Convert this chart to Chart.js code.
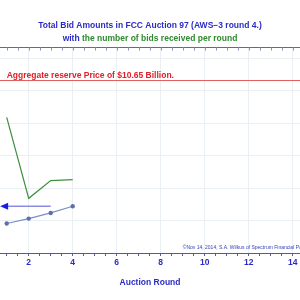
<!DOCTYPE html>
<html><head><meta charset="utf-8">
<script src="https://cdn.jsdelivr.net/npm/chart.js@4.4.0/dist/chart.umd.min.js"></script>
<style>html,body{margin:0;padding:0;background:#fff}#wrap{width:300px;height:300px}</style>
</head><body><div id="wrap"><canvas id="c" width="300" height="300"></canvas></div>
<script>
const rounds = [1, 2, 3, 4];
const totalBids = [1.82, 2.12, 2.47, 2.88];      // billions (blue)
const bidCounts = [8.36, 3.37, 4.46, 4.52];      // number of bids, plotted on same scale (green)
const reservePrice = 10.65;
const reserveLabel = 'Aggregate reserve Price of $10.65 Billion.';
const arrowFrom = 3, arrowTo = 0.7, arrowY = 2.88;
const xTickLabels = [2, 4, 6, 8, 10, 12, 14];
const titleLine1 = 'Total Bid Amounts in FCC Auction 97 (AWS\u22123 round 4.)';
const titleLine2a = 'with ';
const titleLine2b = 'the number of bids received per round';
const credit = '\u00A9Nov 14, 2014, S.A. Wilkus of Spectrum Financial Partners';
const xTitle = 'Auction Round';

const F = '"Liberation Sans", Arial, sans-serif';
const BLUE = '#2b2bc6';
const GREEN = '#2e8a2e';

const fullWidth = {
  id: 'fullWidth',
  afterLayout(chart) {
    const W = chart.width, x = chart.scales.x, y = chart.scales.y, a = chart.chartArea;
    a.left = 0; a.right = W; a.width = W;
    x.left = 0; x.right = W; x.width = W; x.configure();
    y.left = 0; y.right = 0;
  }
};

const deco = {
  id: 'deco',
  beforeDatasetsDraw(chart) {
    const ctx = chart.ctx, y = chart.scales.y;
    ctx.save();
    const ry = Math.round(y.getPixelForValue(reservePrice)) + 0.5;
    ctx.strokeStyle = '#e06060'; ctx.lineWidth = 1;
    ctx.beginPath(); ctx.moveTo(0, ry); ctx.lineTo(chart.width, ry); ctx.stroke();
    ctx.restore();
  },
  afterDatasetsDraw(chart) {
    const ctx = chart.ctx, x = chart.scales.x, y = chart.scales.y, a = chart.chartArea;
    ctx.save();
    const ry = y.getPixelForValue(reservePrice);
    ctx.fillStyle = '#e0202a'; ctx.font = 'bold 8.5px ' + F;
    ctx.textBaseline = 'alphabetic'; ctx.textAlign = 'left';
    ctx.fillText(reserveLabel, x.getPixelForValue(1.0), ry - 2.5);
    const ay = y.getPixelForValue(arrowY);
    const x0 = x.getPixelForValue(arrowFrom), x1 = x.getPixelForValue(arrowTo);
    ctx.strokeStyle = '#8c8ce6'; ctx.lineWidth = 1.5;
    ctx.beginPath(); ctx.moveTo(x0, ay); ctx.lineTo(x1 + 6, ay); ctx.stroke();
    ctx.fillStyle = '#1a1ae6';
    ctx.beginPath(); ctx.moveTo(x1, ay); ctx.lineTo(x1 + 8, ay - 3.5); ctx.lineTo(x1 + 8, ay + 3.5); ctx.closePath(); ctx.fill();
    const ty = Math.round(a.top) + 0.5;
    ctx.strokeStyle = '#6464aa'; ctx.lineWidth = 1;
    ctx.beginPath(); ctx.moveTo(0, ty); ctx.lineTo(chart.width, ty); ctx.stroke();
    ctx.strokeStyle = '#9090c0';
    ctx.beginPath();
    for (let v = 1; v <= 14.5; v += 0.5) {
      const px = Math.round(x.getPixelForValue(v)) + 0.5;
      ctx.moveTo(px, ty); ctx.lineTo(px, ty + 3);
    }
    ctx.stroke();
    ctx.fillStyle = '#3344bb'; ctx.font = '5px ' + F;
    ctx.textBaseline = 'middle';
    ctx.fillText(credit, x.getPixelForValue(9.0), a.bottom - 5.5);
    ctx.textAlign = 'center';
    ctx.font = 'bold 8.5px ' + F;
    ctx.fillStyle = BLUE;
    ctx.fillText(titleLine1, 150, 26);
    const w1 = ctx.measureText(titleLine2a).width, w2 = ctx.measureText(titleLine2b).width;
    const sx = 150 - (w1 + w2) / 2;
    ctx.textAlign = 'left';
    ctx.fillText(titleLine2a, sx, 39);
    ctx.fillStyle = GREEN;
    ctx.fillText(titleLine2b, sx + w1, 39);
    ctx.restore();
  }
};

new Chart(document.getElementById('c'), {
  type: 'line',
  data: {
    datasets: [
      { label: 'Bids', data: rounds.map((r, i) => ({x: r, y: bidCounts[i]})),
        borderColor: '#3f8f3f', borderWidth: 1.2, pointRadius: 0, tension: 0 },
      { label: 'Total', data: rounds.map((r, i) => ({x: r, y: totalBids[i]})),
        borderColor: '#7d8fc4', borderWidth: 1.2, pointRadius: 2.2,
        pointBackgroundColor: '#5d70aa', pointBorderWidth: 0, tension: 0, clip: false }
    ]
  },
  options: {
    responsive: false, animation: false,
    layout: { padding: { top: 47, left: 0, right: 0, bottom: 0 } },
    plugins: { legend: { display: false }, tooltip: { enabled: false }, title: { display: false } },
    scales: {
      x: {
        type: 'linear', min: 0.695, max: 14.33,
        afterBuildTicks: s => { const t = []; for (let v = 1; v <= 14; v += 0.5) t.push({value: v}); s.ticks = t; },
        afterFit: s => { s.height = 47; s.paddingLeft = 0; s.paddingRight = 0; },
        ticks: { autoSkip: false, maxRotation: 0, padding: 2,
          callback: v => xTickLabels.includes(v) ? String(v) : '',
          color: BLUE, font: { family: F, size: 8.5, weight: 'bold' } },
        grid: { color: c => (c.tick && xTickLabels.includes(c.tick.value)) ? '#e9eff3' : 'rgba(0,0,0,0)',
          tickColor: '#555a9a', tickLength: 3, drawTicks: true },
        border: { display: true, color: '#555a9a', width: 1 },
        title: { display: true, text: xTitle, color: BLUE, font: { family: F, size: 8.5, weight: 'bold' },
          padding: { top: 0, bottom: 12 } }
      },
      y: {
        type: 'linear', min: 0, max: 12.7,
        afterBuildTicks: s => { const t = []; for (let v = 0; v <= 12; v += 2) t.push({value: v}); s.ticks = t; },
        afterFit: s => { s.width = 0; s.paddingTop = 0; s.paddingBottom = 0; },
        ticks: { display: false },
        grid: { color: '#e9eff3', drawTicks: false },
        border: { display: false }
      }
    }
  },
  plugins: [fullWidth, deco]
});
</script></body></html>
